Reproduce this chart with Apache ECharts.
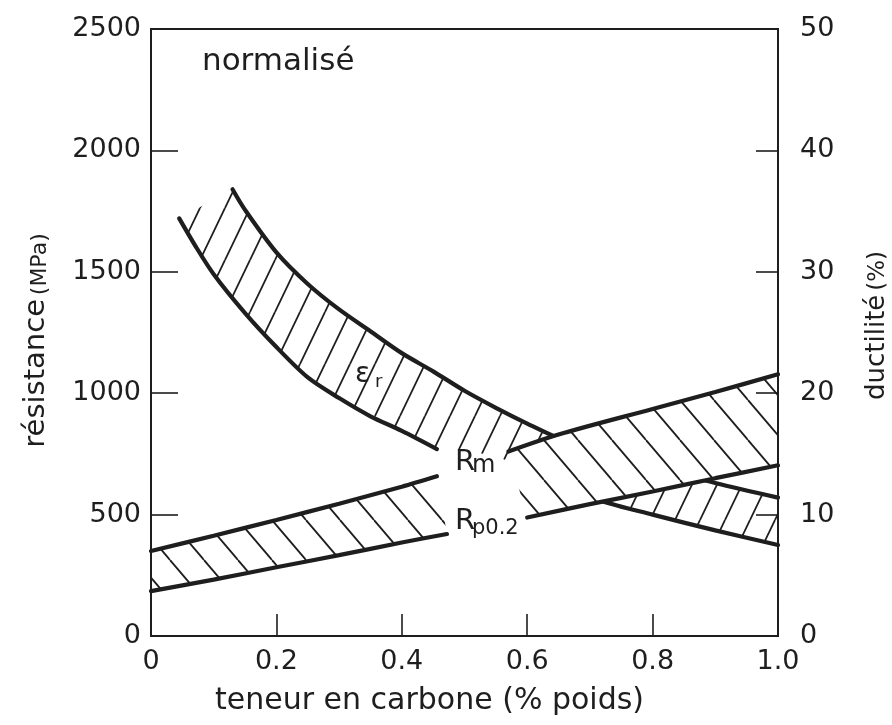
<!DOCTYPE html>
<html>
<head>
<meta charset="utf-8">
<script src="https://cdn.jsdelivr.net/npm/echarts@6/dist/echarts.min.js"></script>
<style>
html,body{margin:0;padding:0;background:#fff;}
#chart{width:892px;height:725px;}
</style>
</head>
<body>
<div id="chart"></div>
<script>
// teneur en carbone (% poids) -> résistance (MPa), état normalisé
var rmLeft  = [[0,350],[0.1,413],[0.2,478],[0.3,545],[0.4,615],[0.456,658]];
var rmRight = [[0.57,760],[0.65,830],[0.8,935],[0.9,1005],[1.0,1078]];
var rpLeft  = [[0,185],[0.1,232],[0.2,283],[0.3,333],[0.4,385],[0.472,420]];
var rpRight = [[0.6,488],[0.7,543],[0.8,595],[0.9,650],[1.0,703]];

// ductilité (%)
var epsUpper  = [[0.13,36.8],[0.15,35.1],[0.2,31.6],[0.25,29.0],[0.3,26.9],[0.35,25.1],[0.4,23.3],[0.45,21.8],[0.5,20.2],[0.55,18.8],[0.6,17.5],[0.65,16.3],[0.7,15.5],[0.8,14.0],[0.9,12.6],[1.0,11.4]];
var epsLowerA = [[0.045,34.4],[0.07,32.2],[0.1,29.8],[0.15,26.6],[0.2,23.8],[0.25,21.3],[0.3,19.6],[0.35,18.1],[0.4,16.9],[0.456,15.4]];
var epsLowerGap = [[0.5,15.3],[0.55,14.8]];   // hidden behind the labels, only bounds the hatching
var epsLowerB = [[0.59,14.0],[0.65,12.6],[0.72,11.1],[0.8,10.0],[0.9,8.7],[1.0,7.5]];

// axes
var xTickLabels = ['0','0.2','0.4','0.6','0.8','1.0'];
var resMax = 2500, resStep = 500;
var ductMax = 50, ductStep = 10;

var INK = '#1e1e1e';
var FONT = '"DejaVu Sans"';

// hatch pattern : '/' or '\'
function hatch(w, h, dir, bg) {
    var c = document.createElement('canvas');
    c.width = w; c.height = h;
    var ctx = c.getContext('2d');
    if (bg) { ctx.fillStyle = bg; ctx.fillRect(0, 0, w, h); }
    ctx.strokeStyle = INK;
    ctx.lineWidth = 1.8;
    for (var k = -1; k <= 1; k++) {
        ctx.beginPath();
        if (dir == '/') { ctx.moveTo(k * w, h); ctx.lineTo(k * w + w, 0); }
        else { ctx.moveTo(k * w, 0); ctx.lineTo(k * w + w, h); }
        ctx.stroke();
    }
    return { image: c, repeat: 'repeat' };
}
var strHatch = hatch(34, 40, '\\', '#fff');
var epsHatch = hatch(25, 52, '/', null);

// hatched band between two curves
function band(upper, lower, fill, yIdx, z) {
    return {
        type: 'custom', yAxisIndex: yIdx, z: z, silent: true,
        data: [[0, 0]],
        renderItem: function (params, api) {
            var pts = [];
            upper.forEach(function (p) { pts.push(api.coord(p)); });
            lower.slice().reverse().forEach(function (p) { pts.push(api.coord(p)); });
            return { type: 'polygon', shape: { points: pts }, style: { fill: fill, stroke: null } };
        }
    };
}

function curve(data, yIdx, z) {
    return {
        type: 'line', data: data, yAxisIndex: yIdx, z: z,
        smooth: 0.3, symbol: 'none', silent: true,
        lineStyle: { color: INK, width: 4.2, cap: 'round' }
    };
}

function txt(x, y, s, size) {
    return { type: 'text', x: x, y: y, z: 20, style: { text: s, fill: INK, font: size + 'px ' + FONT, align: 'left', verticalAlign: 'middle' } };
}

function plain(v) { return String(v); }

var chart = echarts.init(document.getElementById('chart'));
var option = {
    backgroundColor: '#fff',
    animation: false,
    grid: { left: 151, top: 29, width: 627, height: 607, outerBoundsMode: 'none', containLabel: false,
        show: true, borderColor: INK, borderWidth: 2, backgroundColor: 'transparent' },
    xAxis: {
        type: 'value', min: 0, max: 1, interval: 0.2, z: 10,
        name: 'teneur en carbone (% poids)', nameLocation: 'middle', nameGap: 50,
        nameTextStyle: { color: INK, fontFamily: FONT, fontSize: 30, padding: [0, 70, 0, 0] },
        axisLine: { lineStyle: { color: INK, width: 2 } },
        axisTick: { inside: true, length: 22, lineStyle: { color: INK, width: 1.6 } },
        axisLabel: { color: INK, fontFamily: FONT, fontSize: 27, margin: 12,
            formatter: function (v) { return xTickLabels[Math.round(v / 0.2)]; } },
        splitLine: { show: false }
    },
    yAxis: [
        {
            type: 'value', min: 0, max: resMax, interval: resStep, position: 'left', z: 10,
            name: '{a|résistance} {b|(MPa)}', nameLocation: 'middle', nameGap: 100,
            nameTextStyle: { color: INK, fontFamily: FONT, padding: [0, 16, 0, 0],
                rich: { a: { fontSize: 29, fontFamily: FONT, color: INK, verticalAlign: 'bottom' },
                        b: { fontSize: 22, fontFamily: FONT, color: INK, verticalAlign: 'bottom' } } },
            axisLine: { show: true, lineStyle: { color: INK, width: 2 } },
            axisTick: { show: true, inside: true, length: 27, lineStyle: { color: INK, width: 1.6 } },
            axisLabel: { color: INK, fontFamily: FONT, fontSize: 27, margin: 10, formatter: plain },
            splitLine: { show: false }
        },
        {
            type: 'value', min: 0, max: ductMax, interval: ductStep, position: 'right', z: 10,
            name: '{a|ductilité} {b|(%)}', nameLocation: 'middle', nameGap: 86,
            nameTextStyle: { color: INK, fontFamily: FONT, padding: [0, 0, 0, 14],
                rich: { a: { fontSize: 26, fontFamily: FONT, color: INK, verticalAlign: 'bottom' },
                        b: { fontSize: 23, fontFamily: FONT, color: INK, verticalAlign: 'bottom' } } },
            axisLine: { show: true, lineStyle: { color: INK, width: 2 } },
            axisTick: { show: true, inside: true, length: 22, lineStyle: { color: INK, width: 1.6 } },
            axisLabel: { color: INK, fontFamily: FONT, fontSize: 27, margin: 22, formatter: plain },
            splitLine: { show: false }
        }
    ],
    graphic: [
        txt(202, 62, 'normalisé', 31),
        txt(355, 375, 'ε', 28),
        txt(375, 382, 'r', 18),
        txt(455, 462, 'R', 29),
        txt(472, 466, 'm', 24),
        txt(455, 521, 'R', 29),
        txt(472, 529, 'p0.2', 21)
    ],
    series: [
        band(epsUpper, epsLowerA.concat(epsLowerGap, epsLowerB), epsHatch, 1, 1),
        curve(epsUpper, 1, 2),
        curve(epsLowerA, 1, 2),
        curve(epsLowerB, 1, 2),
        band(rmLeft, rpLeft, strHatch, 0, 3),
        band(rmRight, rpRight, strHatch, 0, 3),
        curve(rmLeft, 0, 4),
        curve(rpLeft, 0, 4),
        curve(rmRight, 0, 4),
        curve(rpRight, 0, 4)
    ]
};
chart.setOption(option);
</script>
</body>
</html>
